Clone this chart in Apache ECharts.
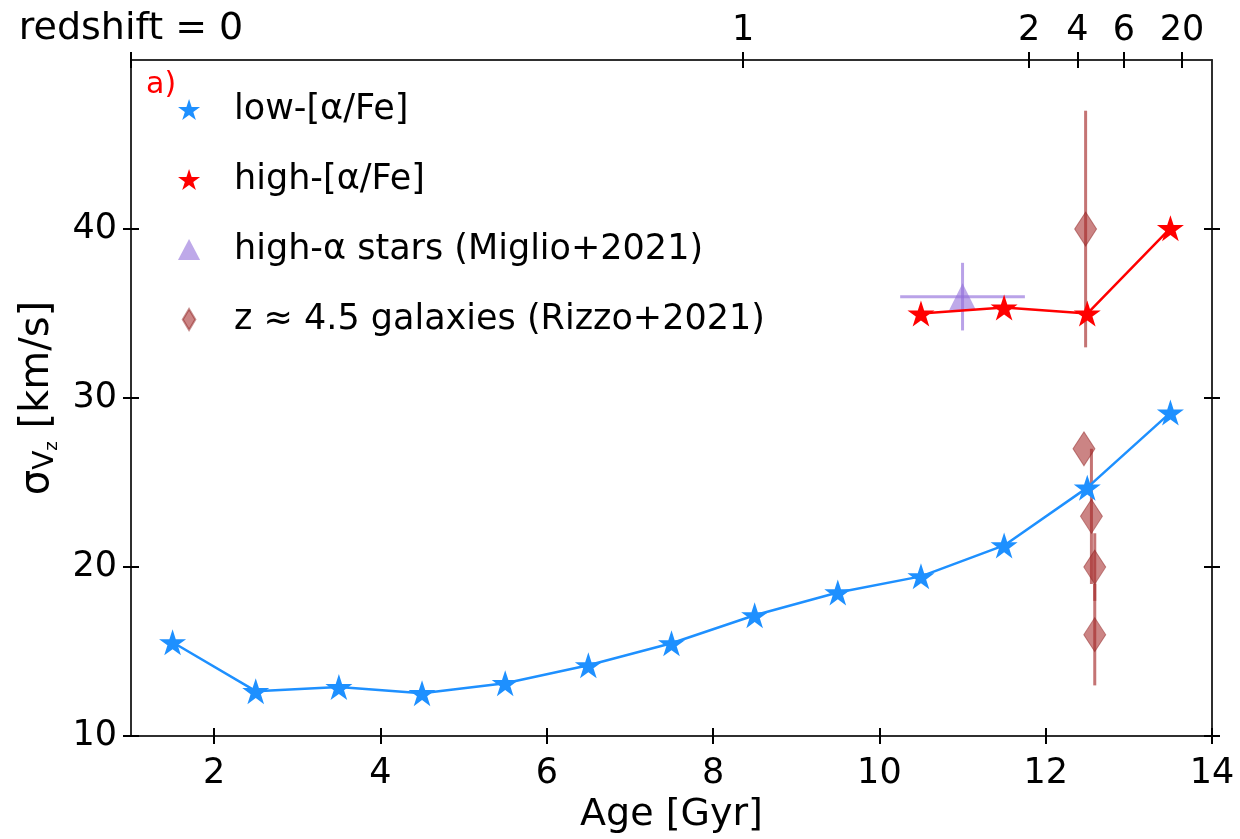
<!DOCTYPE html>
<html>
<head>
<meta charset="utf-8">
<script src="https://cdn.jsdelivr.net/npm/echarts@6/dist/echarts.min.js"></script>
<style>html,body{margin:0;padding:0;background:#fff;}#c{width:1240px;height:839px;}</style>
</head>
<body>
<div id="c"></div>
<script>
// ---- data ----
const lowAge   = [1.5, 2.5, 3.5, 4.5, 5.5, 6.5, 7.5, 8.5, 9.5, 10.5, 11.5, 12.5, 13.5];
const lowSigma = [15.55, 12.66, 12.9, 12.54, 13.13, 14.19, 15.49, 17.15, 18.5, 19.45, 21.28, 24.7, 29.14];
const highAge   = [10.5, 11.5, 12.5, 13.5];
const highSigma = [35.0, 35.35, 35.0, 40.05];
const miglioAge = [11.0];
const miglioSigma = [36.0];
const miglioAgeErr = [0.75];
const miglioSigmaErr = [2.0];
const rizzoAge = [12.48, 12.46, 12.55, 12.59, 12.59];
const rizzoSigma = [40, 27, 23, 20, 16];
const rizzoSigmaErr = [7, 0, 4, 2, 3];
const xTicks = [2, 4, 6, 8, 10, 12, 14];
const yTicks = [10, 20, 30, 40];
const zTickAges = [1.0, 8.36, 11.8, 12.38, 12.94, 13.64];
const zTickLabels = ['redshift = 0', '1', '2', '4', '6', '20'];

const FONT = 'DejaVu Sans';
const STAR = 'path://M50,0L61.2,34.5L97.6,34.5L68.2,55.9L79.4,90.5L50,69.1L20.6,90.5L31.8,55.9L2.4,34.5L38.8,34.5Z';
const THIN_DIAMOND = 'path://M30,0L60,50L30,100L0,50Z';
const TRIANGLE = 'path://M50,0L100,95L0,95Z';
const BLUE = '#1E90FF', RED = '#FF0000';
const PURPLE = 'rgba(147,112,219,0.75)', PURPLE_LINE = 'rgba(147,112,219,0.65)';
const BROWN = 'rgba(165,42,42,0.72)', BROWN_LINE = 'rgba(165,42,42,0.65)';

const zip = (a, b) => a.map((v, i) => [v, b[i]]);

function errRender(color) {
  return function (params, api) {
    const x = api.value(0), y = api.value(1), xe = api.value(2), ye = api.value(3);
    const children = [];
    if (ye > 0) {
      const p1 = api.coord([x, y - ye]), p2 = api.coord([x, y + ye]);
      children.push({type: 'line', shape: {x1: p1[0], y1: p1[1], x2: p2[0], y2: p2[1]}, style: {stroke: color, lineWidth: 3}});
    }
    if (xe > 0) {
      const p1 = api.coord([x - xe, y]), p2 = api.coord([x + xe, y]);
      children.push({type: 'line', shape: {x1: p1[0], y1: p1[1], x2: p2[0], y2: p2[1]}, style: {stroke: color, lineWidth: 3}});
    }
    return {type: 'group', children};
  };
}

const axisLineStyle = {color: '#222', width: 1.5};
const tickStyle = {color: '#000', width: 2};
const labelStyle = {color: '#000', fontSize: 35, fontFamily: FONT};

function xAx(pos, inside, ticks, labels, extra) {
  return Object.assign({
    type: 'value', position: pos, min: 1, max: 14, gridIndex: 0,
    splitLine: {show: false},
    axisLine: {show: true, onZero: false, lineStyle: axisLineStyle},
    axisTick: {show: true, inside: inside, length: 8, lineStyle: tickStyle, customValues: ticks},
    axisLabel: labels ? Object.assign({customValues: ticks, margin: 20, showMinLabel: true, showMaxLabel: true}, labelStyle, labels) : {show: false}
  }, extra || {});
}
function yAx(pos, inside, labels, extra) {
  return Object.assign({
    type: 'value', position: pos, min: 10, max: 50,
    splitLine: {show: false},
    axisLine: {show: true, onZero: false, lineStyle: axisLineStyle},
    axisTick: {show: true, inside: inside, length: 8, lineStyle: tickStyle, customValues: yTicks},
    axisLabel: labels ? Object.assign({customValues: yTicks, margin: 14}, labelStyle) : {show: false}
  }, extra || {});
}

const option = {
  backgroundColor: '#fff',
  animation: false,
  grid: {left: 131, right: 28, top: 60, bottom: 102},
  title: {text: 'a)', left: 141, top: 65, textStyle: {color: '#FF0000', fontSize: 30, fontWeight: 'normal', fontFamily: FONT}},
  legend: {
    orient: 'vertical', left: 173, top: 84,
    itemWidth: 80, itemHeight: 21, itemGap: 29, itemTextGap: 5,
    textStyle: {fontSize: 35, fontFamily: FONT, color: '#000', lineHeight: 41},
    data: [
      {name: 'low-[α/Fe]', icon: STAR, itemStyle: {color: BLUE}},
      {name: 'high-[α/Fe]', icon: STAR, itemStyle: {color: RED}},
      {name: 'high-α stars (Miglio+2021)', icon: TRIANGLE, itemStyle: {color: PURPLE}},
      {name: 'z ≈ 4.5 galaxies (Rizzo+2021)', icon: THIN_DIAMOND, itemStyle: {color: BROWN}}
    ]
  },
  xAxis: [
    xAx('bottom', false, xTicks, {}, {name: 'Age [Gyr]', nameLocation: 'middle', nameGap: 54, nameTextStyle: {fontSize: 38, fontFamily: FONT, color: '#000'}}),
    xAx('bottom', true, xTicks, null),
    xAx('top', false, zTickAges, {margin: 12, rich: {r: {fontSize: 38, fontFamily: FONT, color: '#000'}}, formatter: function (v) {
      let best = 0, d = 1e9;
      zTickAges.forEach((a, i) => { if (Math.abs(a - v) < d) { d = Math.abs(a - v); best = i; } });
      return best === 0 ? '{r|' + zTickLabels[best] + '}' : zTickLabels[best];
    }}),
    xAx('top', true, zTickAges, null)
  ],
  yAxis: [
    yAx('left', false, true, {
      name: '{s|σ}{v|V}{z|z}{s| [km/s]}', nameLocation: 'middle', nameGap: 58, nameRotate: 90,
      nameTextStyle: {fontFamily: FONT, color: '#000', fontSize: 40, rich: {
        s: {fontSize: 40, fontFamily: FONT, color: '#000'},
        v: {fontSize: 28, fontFamily: FONT, color: '#000', padding: [16, 0, 0, 0]},
        z: {fontSize: 18, fontFamily: FONT, color: '#000', padding: [30, 0, 0, 0]}
      }}
    }),
    yAx('left', true, false),
    yAx('right', false, false),
    yAx('right', true, false)
  ],
  series: [
    {
      name: 'z ≈ 4.5 galaxies (Rizzo+2021) err', type: 'custom', xAxisIndex: 0, yAxisIndex: 0, z: 1,
      renderItem: errRender(BROWN_LINE),
      data: rizzoAge.map((a, i) => [a, rizzoSigma[i], 0, rizzoSigmaErr[i]])
    },
    {
      name: 'z ≈ 4.5 galaxies (Rizzo+2021)', type: 'scatter', xAxisIndex: 0, yAxisIndex: 0, z: 2,
      symbol: 'diamond', symbolSize: [22, 34],
      itemStyle: {color: BROWN, borderColor: 'rgba(140,30,30,0.6)', borderWidth: 1},
      data: zip(rizzoAge, rizzoSigma)
    },
    {
      name: 'high-α stars (Miglio+2021) err', type: 'custom', xAxisIndex: 0, yAxisIndex: 0, z: 3,
      renderItem: errRender(PURPLE_LINE),
      data: miglioAge.map((a, i) => [a, miglioSigma[i], miglioAgeErr[i], miglioSigmaErr[i]])
    },
    {
      name: 'high-α stars (Miglio+2021)', type: 'scatter', xAxisIndex: 0, yAxisIndex: 0, z: 4,
      symbol: TRIANGLE, symbolSize: [27, 27],
      itemStyle: {color: PURPLE},
      data: zip(miglioAge, miglioSigma)
    },
    {
      name: 'low-[α/Fe]', type: 'line', xAxisIndex: 0, yAxisIndex: 0, z: 5,
      symbol: STAR, symbolSize: [27, 26], showAllSymbol: true,
      itemStyle: {color: BLUE}, lineStyle: {color: BLUE, width: 2.5},
      data: zip(lowAge, lowSigma)
    },
    {
      name: 'high-[α/Fe]', type: 'line', xAxisIndex: 0, yAxisIndex: 0, z: 6,
      symbol: STAR, symbolSize: [27, 26], showAllSymbol: true,
      itemStyle: {color: RED}, lineStyle: {color: RED, width: 2.5},
      data: zip(highAge, highSigma)
    }
  ]
};
const chart = echarts.init(document.getElementById('c'), null, {renderer: 'canvas'});
chart.setOption(option);
</script>
</body>
</html>
